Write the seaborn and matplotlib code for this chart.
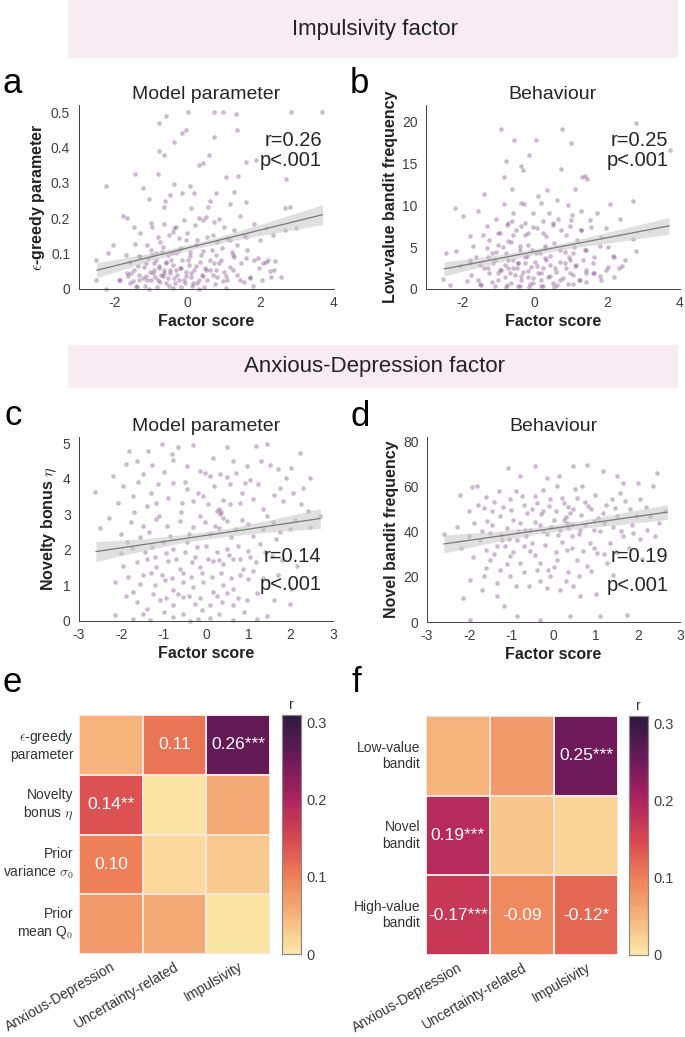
import matplotlib.pyplot as plt
import numpy as np
import pandas as pd
import seaborn as sns

from matplotlib.colors import LinearSegmentedColormap
from matplotlib.patches import Rectangle


# points (factor score, value): spread-out ones, then the dense core
pts_a_spread = [(0, 0.5), (-0.6, 0.49), (-0.8, 0.47), (0.72, 0.5), (0.98, 0.5), (1.33, 0.495), (2.83, 0.5), (3.69, 0.5),
         (-0.05, 0.45), (-0.17, 0.44), (1.35, 0.45), (0.73, 0.43), (-0.39, 0.415), (-0.8, 0.39), (-0.66, 0.38),
         (0.59, 0.38), (-1.44, 0.325), (-0.81, 0.326), (0.32, 0.35), (0.43, 0.355), (1.6, 0.36), (1.88, 0.365),
         (-2.25, 0.29), (-1.24, 0.286), (-0.37, 0.296), (0.06, 0.29), (1.05, 0.317), (1.38, 0.32), (2.7, 0.31),
         (0.18, 0.27), (-0.15, 0.27), (-0.5, 0.265), (0.78, 0.27), (1.28, 0.275), (-1.06, 0.253), (-0.62, 0.25),
         (0.6, 0.25), (1.15, 0.24), (1.6, 0.247), (-1.79, 0.205), (-1.67, 0.2), (-0.66, 0.233), (0.09, 0.23),
         (0.55, 0.233), (2.67, 0.228), (2.8, 0.233), (-1.47, 0.176), (-1.0, 0.186), (-0.32, 0.176), (0.32, 0.2),
         (0.43, 0.195), (0.87, 0.197), (1.42, 0.205), (2.16, 0.172), (2.34, 0.153), (2.66, 0.167), (2.98, 0.172),
         (-2.04, 0.125), (-1.44, 0.128), (-0.83, 0.148), (-0.41, 0.162), (-0.05, 0.139), (0.23, 0.125),
         (0.69, 0.153), (1.15, 0.139), (1.6, 0.148), (1.97, 0.139), (-2.52, 0.083), (-2.2, 0.103), (-1.7, 0.097),
         (-1.33, 0.092), (-1.0, 0.109), (-0.69, 0.12), (-0.32, 0.101), (0.06, 0.092), (0.41, 0.106), (0.78, 0.097),
         (1.24, 0.097), (1.6, 0.087), (1.93, 0.087), (2.2, 0.083), (2.4, 0.078), (-2.52, 0.026), (-2.25, 0.0),
         (-1.88, 0.026), (-1.56, 0.045), (-1.38, 0.064), (-1.15, 0.073), (-0.92, 0.054), (-0.83, 0.026),
         (-0.6, 0.073), (-0.5, 0.045), (-0.37, 0.031), (-0.18, 0.059), (-0.09, 0.017), (0.09, 0.045), (0.23, 0.064),
         (0.32, 0.026), (0.5, 0.054), (0.69, 0.04), (0.87, 0.073), (1.05, 0.036), (1.24, 0.054), (1.42, 0.026),
         (1.7, 0.031), (2.06, 0.073), (2.25, 0.05), (-1.42, 0.008), (-1.06, 0.0), (-0.41, 0.003), (0.32, 0.0),
         (1.05, 0.003), (1.79, 0.008), (-1.24, 0.031), (-0.73, 0.04), (-1.0, 0.026), (-0.87, 0.083), (-0.78, 0.064),
         (-0.69, 0.036), (-0.6, 0.017), (-0.46, 0.083), (-0.32, 0.054), (-0.23, 0.026), (-0.96, 0.045),
         (-1.15, 0.036), (-1.33, 0.026), (-1.51, 0.022), (-1.65, 0.036), (-0.05, 0.036), (0.14, 0.017),
         (0.41, 0.036), (0.6, 0.083), (0.78, 0.054), (0.96, 0.022), (-1.1, 0.087), (-0.55, 0.097), (-0.87, 0.101),
         (-0.23, 0.111), (0.0, 0.083), (-0.64, 0.054)]
pts_a_core = [(-1.49, 0.054), (-1.35, 0.040), (-1.21, 0.063), (-1.12, 0.025), (-1.03, 0.049), (-0.94, 0.073),
         (-0.89, 0.035), (-0.80, 0.058), (-0.75, 0.021), (-0.66, 0.044), (-0.61, 0.077), (-0.55, 0.030),
         (-0.48, 0.054), (-0.40, 0.068), (-0.34, 0.016), (-0.29, 0.040), (-0.22, 0.058), (-0.16, 0.082),
         (-0.11, 0.025), (-0.04, 0.049), (0.03, 0.068), (0.09, 0.035), (0.17, 0.054), (0.26, 0.016), (0.33, 0.077),
         (0.39, 0.040), (0.46, 0.058), (0.53, 0.025), (0.62, 0.054), (0.72, 0.073), (0.81, 0.035), (0.90, 0.082),
         (0.99, 0.049), (1.08, 0.025), (1.17, 0.063), (1.27, 0.091), (1.36, 0.040), (1.45, 0.073), (-1.85, 0.025),
         (-1.67, 0.044), (-1.58, 0.016), (-1.39, 0.007), (-1.17, 0.008), (-0.84, 0.007), (-0.52, 0.008),
         (-0.20, 0.007), (0.12, 0.008), (0.44, 0.007), (0.76, 0.014), (-1.58, 0.077), (-1.30, 0.091),
         (-0.98, 0.096), (-0.71, 0.105), (-0.43, 0.101), (-0.20, 0.115), (0.07, 0.105), (0.35, 0.096),
         (0.67, 0.110), (0.94, 0.115), (1.22, 0.105), (-0.75, 0.134), (-0.52, 0.153), (-0.25, 0.143),
         (-0.02, 0.157), (0.26, 0.138), (0.53, 0.148), (0.81, 0.134), (1.08, 0.143), (1.36, 0.124), (-1.12, 0.124),
         (-1.30, 0.157), (-0.98, 0.176), (-0.66, 0.185), (-0.39, 0.171), (-0.11, 0.195), (0.21, 0.181),
         (0.49, 0.204), (0.72, 0.190), (0.99, 0.176), (1.27, 0.167), (1.54, 0.153), (1.82, 0.185), (1.63, 0.110),
         (1.82, 0.082), (1.95, 0.058), (2.14, 0.077), (2.28, 0.035), (1.72, 0.035), (1.54, 0.021), (2.05, 0.025),
         (2.55, 0.035), (2.37, 0.054)]

pts_b_spread = [(-0.92, 19.1), (0.76, 19.1), (2.8, 19.9), (3.72, 16.6), (-0.58, 17.8), (0.03, 17.8), (0.99, 17.5),
         (-0.16, 16.0), (-0.8, 15.3), (-0.37, 14.7), (0.73, 14.3), (-0.34, 14.2), (-0.84, 13.4), (-0.64, 12.0),
         (1.38, 13.5), (1.31, 13.4), (1.45, 13.2), (0.34, 11.8), (-1.4, 11.3), (1.1, 12.0), (0.09, 11.1),
         (0.6, 10.7), (2.71, 10.5), (-2.2, 9.7), (-0.84, 10.2), (-0.37, 10.3), (-0.29, 10.2), (0.18, 10.3),
         (0.9, 10.1), (2.06, 10.2), (-1.56, 9.3), (-0.61, 9.1), (-0.05, 9.1), (0.39, 9.1), (1.01, 8.9), (1.28, 9.3),
         (1.7, 9.1), (-1.97, 8.7), (-1.06, 8.4), (-0.64, 8.1), (-0.28, 7.9), (0.23, 8.1), (0.64, 8.4), (1.51, 8.3),
         (2.34, 8.4), (-1.33, 7.5), (-0.76, 7.7), (-0.37, 7.5), (0.05, 7.3), (0.5, 7.7), (0.96, 7.5), (1.28, 7.1),
         (1.97, 7.3), (-1.79, 6.3), (-1.42, 6.4), (-0.96, 6.7), (-0.6, 6.5), (-0.18, 6.7), (0.32, 6.3), (0.87, 6.5),
         (1.15, 5.9), (2.71, 6.0), (2.8, 4.5), (-2.45, 4.3), (-2.16, 4.5), (-1.7, 5.1), (-1.33, 4.9), (-1.01, 5.3),
         (-0.73, 5.7), (-0.41, 5.1), (-0.09, 4.7), (0.28, 5.1), (0.69, 4.7), (1.06, 4.3), (1.42, 4.7), (1.79, 5.1),
         (2.16, 3.9), (2.39, 2.7), (2.48, 3.5), (-2.06, 2.7), (-1.79, 3.5), (-1.51, 2.9), (-1.28, 2.5), (-1.1, 3.5),
         (-0.96, 2.3), (-0.83, 2.9), (-0.69, 1.9), (-0.6, 3.5), (-0.5, 2.5), (-0.37, 1.5), (-0.28, 3.1),
         (-0.18, 2.1), (-0.05, 1.3), (0.05, 2.7), (0.18, 1.9), (0.32, 3.5), (0.41, 1.5), (0.55, 2.5), (0.69, 1.1),
         (0.83, 3.1), (0.96, 1.9), (1.1, 2.7), (1.24, 1.1), (1.42, 1.9), (1.6, 3.1), (1.79, 1.5), (1.97, 2.3),
         (-2.52, 1.2), (-2.34, 0.5), (-1.88, 0.9), (-1.51, 0.6), (-1.19, 0.8), (-0.78, 0.5), (-0.41, 0.4),
         (-0.14, 0.6), (0.23, 0.4), (0.6, 0.5), (1.06, 0.6), (1.42, 0.8), (-1.01, 1.9), (-0.73, 2.5), (-0.46, 3.1),
         (-0.23, 3.9), (0.14, 4.3), (-0.8, 4.3), (-1.19, 4.3), (0.41, 3.9), (0.96, 3.5), (1.6, 1.9)]
pts_b_core = [(-1.39, 2.47), (-1.25, 1.87), (-1.16, 3.07), (-1.02, 1.08), (-0.93, 2.27), (-0.83, 1.47), (-0.74, 3.47),
         (-0.67, 0.68), (-0.61, 2.47), (-0.54, 1.67), (-0.47, 3.07), (-0.39, 1.08), (-0.33, 2.07), (-0.27, 3.86),
         (-0.19, 1.47), (-0.12, 2.67), (-0.06, 0.68), (0.01, 3.27), (0.08, 1.87), (0.16, 1.08), (0.22, 2.47),
         (0.28, 3.67), (0.36, 1.47), (0.43, 2.87), (0.50, 0.68), (0.59, 2.07), (0.68, 3.27), (0.77, 1.27),
         (0.86, 2.47), (0.95, 3.86), (1.05, 1.67), (1.14, 2.87), (1.23, 1.08), (1.32, 3.47), (1.41, 2.27),
         (-1.75, 1.67), (-1.57, 1.08), (-1.48, 0.48), (-1.11, 0.36), (-0.79, 0.28), (-0.47, 0.36), (-0.15, 0.28),
         (0.17, 0.36), (0.54, 0.28), (0.91, 0.60), (-1.29, 3.86), (-1.06, 4.46), (-0.88, 5.06), (-0.65, 5.66),
         (-0.42, 4.66), (-0.19, 5.26), (0.04, 4.26), (0.27, 4.86), (0.54, 5.46), (0.82, 4.46), (1.09, 5.06),
         (1.37, 4.66), (1.64, 3.86), (-0.51, 7.05), (-0.28, 6.45), (-0.06, 7.45), (0.22, 6.65), (0.50, 7.85),
         (0.72, 7.05), (1.00, 8.25), (-0.74, 7.85), (-1.02, 6.65), (-1.25, 5.86), (1.28, 7.05), (1.55, 7.45),
         (1.83, 6.25), (2.01, 5.06), (2.19, 3.86), (2.01, 2.67), (2.33, 2.47), (1.64, 1.87), (1.83, 1.08),
         (2.19, 1.47), (-1.61, 3.86), (-1.80, 3.07)]

pts_c_spread = [(-2.62, 3.63), (-2.2, 4.07), (-1.83, 4.77), (-1.36, 4.77), (-1.05, 4.98), (-0.67, 4.89), (-0.3, 4.95),
         (0.49, 4.9), (1.17, 4.93), (1.45, 4.97), (2.21, 4.72), (-1.64, 4.49), (-1.28, 4.39), (-0.77, 4.53),
         (-0.46, 4.35), (-0.14, 4.21), (0.17, 4.58), (0.64, 4.49), (0.96, 4.35), (1.51, 4.39), (1.71, 4.26),
         (1.9, 4.02), (2.45, 4.02), (-1.95, 3.79), (-1.48, 4.12), (-1.13, 3.84), (-0.77, 3.88), (-0.46, 3.7),
         (-0.03, 4.16), (0.09, 4.07), (0.33, 4.12), (0.56, 3.84), (0.92, 3.88), (1.23, 3.84), (1.74, 3.74),
         (2.06, 3.6), (-2.07, 3.32), (-1.72, 3.51), (-1.4, 3.23), (-1.17, 3.32), (-0.89, 3.46), (-0.57, 3.32),
         (-0.3, 3.37), (-0.07, 3.51), (0.25, 3.09), (0.33, 3.0), (0.56, 3.28), (0.8, 3.32), (1.11, 3.42),
         (1.35, 3.14), (1.82, 3.37), (2.25, 3.28), (2.69, 2.95), (-2.5, 2.6), (-1.76, 2.77), (-1.48, 2.67),
         (-1.17, 2.86), (-0.93, 2.67), (-0.62, 2.81), (-0.3, 2.63), (-0.03, 2.77), (0.21, 2.67), (0.49, 2.81),
         (0.72, 2.58), (0.99, 2.72), (1.35, 2.58), (1.59, 2.77), (1.98, 2.58), (2.45, 2.63), (-1.87, 2.21),
         (-1.56, 2.35), (-1.28, 2.07), (-1.01, 2.21), (-0.77, 2.02), (-0.46, 2.21), (-0.22, 2.07), (0.01, 2.11),
         (0.25, 1.93), (0.49, 2.02), (0.76, 2.11), (0.99, 1.97), (1.27, 2.16), (1.66, 2.3), (-1.95, 1.55),
         (-1.64, 1.65), (-1.4, 1.74), (-1.17, 1.51), (-0.89, 1.69), (-0.62, 1.46), (-0.34, 1.65), (-0.14, 1.51),
         (0.17, 1.69), (0.41, 1.6), (0.64, 1.74), (0.88, 1.46), (1.19, 1.65), (1.55, 1.83), (-2.15, 1.09),
         (-1.72, 0.81), (-1.48, 1.28), (-1.2, 1.0), (-0.97, 1.14), (-0.77, 0.86), (-0.54, 1.09), (-0.3, 0.95),
         (-0.07, 1.09), (0.17, 0.81), (0.41, 1.0), (0.64, 0.9), (0.99, 1.18), (1.98, 0.48), (-1.64, 0.53),
         (-1.4, 0.34), (-1.09, 0.58), (-0.77, 0.44), (-0.54, 0.67), (-0.26, 0.48), (0.09, 0.44), (0.37, 0.53),
         (0.64, 0.46), (0.96, 0.58), (-2.15, 0.18), (-1.72, 0.07), (-1.33, 0.02), (-0.77, 0.11), (-0.38, 0.0),
         (0.09, 0.08), (0.64, 0.02), (1.43, 0.14)]
pts_c_core = [(-1.9, 4.4), (-1.6, 3.9), (-1.3, 3.6), (-1.0, 4.2), (-0.8, 4.7), (-0.5, 3.9), (-0.2, 3.6), (0.05, 3.3),
         (0.2, 3.8), (0.3, 3.15), (0.35, 3.05), (0.4, 3.4), (0.5, 4.05), (0.7, 4.15), (0.85, 3.6), (1.05, 3.95),
         (1.3, 4.5), (1.6, 3.55), (2.0, 4.3), (2.3, 3.75), (-2.3, 2.9), (-2.0, 2.45), (-1.7, 3.05), (-1.35, 2.5),
         (-1.1, 2.95), (-0.85, 2.4), (-0.6, 3.05), (-0.4, 2.45), (-0.15, 2.95), (0.1, 2.45), (0.3, 2.6), (0.4, 2.9),
         (0.6, 2.35), (0.85, 2.85), (1.1, 2.4), (1.45, 2.95), (1.75, 2.5), (2.1, 2.85), (2.4, 3.1), (-2.0, 1.9),
         (-1.75, 2.05), (-1.45, 1.95), (-1.2, 1.8), (-0.95, 1.9), (-0.7, 1.75), (-0.5, 1.95), (-0.25, 1.8),
         (0.05, 1.75), (0.3, 1.7), (0.55, 1.85), (0.8, 1.75), (1.05, 1.8), (1.4, 1.95), (1.8, 1.7), (2.15, 1.55),
         (-1.85, 1.25), (-1.55, 1.05), (-1.3, 1.35), (-1.05, 1.3), (-0.8, 1.2), (-0.55, 1.35), (-0.35, 1.25),
         (-0.1, 1.35), (0.15, 1.25), (0.35, 1.35), (0.6, 1.2), (0.8, 1.3), (1.1, 1.4), (1.35, 1.2), (1.7, 1.3),
         (2.0, 0.9), (-1.9, 0.7), (-1.25, 0.75), (-0.95, 0.65), (-0.65, 0.75), (-0.4, 0.7), (-0.15, 0.65),
         (0.25, 0.7), (0.5, 0.8), (0.75, 0.65), (1.2, 0.8), (1.6, 0.6), (-1.5, 0.2), (-1.0, 0.25), (-0.55, 0.2),
         (-0.1, 0.3), (0.3, 0.2), (0.9, 0.25), (1.2, 0.05), (-0.2, 0.05)]

pts_d_spread = [(-2.6, 39.2), (-2.21, 56.1), (-1.93, 59.9), (-1.82, 60.2), (-1.97, 18.8), (-2.15, 10.7), (-1.99, 1.0),
         (-1.66, 50.6), (-1.46, 49.1), (-1.3, 58.0), (-1.07, 68.3), (-0.79, 64.6), (-0.43, 69.1), (-0.16, 63.9),
         (0.12, 64.6), (0.47, 69.1), (0.79, 69.8), (1.18, 66.9), (1.5, 64.6), (1.66, 61.7), (2.01, 61.7),
         (2.45, 66.1), (2.37, 60.2), (-1.89, 43.9), (-1.58, 44.7), (-1.26, 46.9), (-1.03, 54.3), (-0.95, 45.4),
         (-0.75, 55.8), (-0.63, 48.4), (-0.39, 52.8), (-0.24, 58.7), (-0.08, 54.3), (0.08, 60.2), (0.24, 52.8),
         (0.39, 48.4), (0.55, 55.0), (0.67, 60.2), (0.83, 51.3), (0.99, 56.5), (1.18, 48.4), (1.38, 54.3),
         (1.58, 57.2), (1.82, 49.9), (2.05, 54.3), (2.29, 46.9), (2.64, 49.1), (-1.74, 36.5), (-1.5, 39.5),
         (-1.34, 33.6), (-1.1, 41.7), (-0.87, 36.5), (-0.67, 41.0), (-0.51, 35.1), (-0.32, 43.2), (-0.16, 38.8),
         (0.0, 45.4), (0.16, 41.0), (0.32, 43.9), (0.43, 38.0), (0.63, 41.0), (0.87, 35.1), (1.1, 40.2),
         (1.34, 35.1), (1.66, 38.0), (1.89, 39.5), (2.21, 41.0), (-1.5, 27.7), (-1.26, 23.2), (-1.03, 29.1),
         (-0.79, 26.2), (-0.55, 31.4), (-0.32, 26.2), (-0.12, 23.2), (0.08, 27.7), (0.32, 32.1), (0.55, 27.7),
         (0.79, 24.7), (1.03, 30.6), (1.26, 26.2), (-1.66, 20.3), (-1.34, 17.3), (-1.03, 20.3), (-0.59, 15.8),
         (-0.32, 18.0), (-0.08, 20.3), (0.16, 14.3), (0.47, 15.8), (0.63, 11.4), (-1.34, 11.4), (-1.18, 7.0),
         (-0.87, 2.5), (-0.32, 1.0), (0.39, 2.5), (1.1, 2.5), (1.74, 3.0), (-0.55, 41.0), (-0.24, 49.1),
         (0.47, 49.9), (0.95, 44.7), (-0.79, 43.9), (-1.22, 36.5), (1.5, 46.9)]
pts_d_core = [(-2.0, 49), (-1.8, 52), (-1.6, 55.5), (-1.4, 53), (-1.2, 51), (-1.0, 49.5), (-0.9, 58), (-0.7, 52),
         (-0.5, 50), (-0.45, 56), (-0.3, 48), (-0.1, 51.5), (0.05, 49), (0.2, 55), (0.3, 46.5), (0.35, 51),
         (0.5, 59), (0.65, 47.5), (0.75, 53), (0.9, 50), (1.05, 46), (1.25, 52), (1.45, 50.5), (1.7, 53.5),
         (1.95, 47), (2.2, 51), (2.5, 44), (-2.3, 42), (-2.0, 38), (-1.7, 40.5), (-1.45, 43), (-1.25, 38.5),
         (-1.05, 37), (-0.85, 40.5), (-0.65, 38), (-0.45, 44.5), (-0.25, 40.5), (-0.05, 42), (0.1, 38.5),
         (0.25, 45), (0.35, 41.5), (0.45, 43.5), (0.6, 39), (0.75, 43), (0.95, 41), (1.2, 44), (1.4, 42),
         (1.6, 40.5), (1.85, 43), (2.05, 37), (2.4, 38), (-2.2, 33), (-1.9, 29), (-1.6, 32), (-1.4, 30),
         (-1.15, 33.5), (-0.95, 31), (-0.7, 33.5), (-0.45, 29.5), (-0.2, 34), (0.05, 31), (0.2, 35.5), (0.45, 33),
         (0.7, 31.5), (0.95, 33), (1.2, 30), (1.5, 31), (1.8, 33), (2.1, 28), (-1.6, 24), (-1.1, 25.5), (-0.7, 22),
         (-0.4, 23), (0.0, 24.5), (0.35, 22), (0.6, 20.5), (0.9, 22.5), (1.4, 21), (-0.9, 16), (-0.15, 15),
         (0.3, 18), (1.0, 12.5), (-1.7, 14)]

# regression line and 95% band
fit_a_x = [-2.5, -1.0, 0.0, 1.0, 2.0, 3.7]
fit_a_y = [0.053, 0.091, 0.117, 0.142, 0.167, 0.210]
fit_a_lo = [0.032, 0.080, 0.109, 0.132, 0.151, 0.182]
fit_a_hi = [0.074, 0.102, 0.125, 0.152, 0.183, 0.238]

fit_b_x = [-2.5, -1.0, 0.0, 1.0, 2.0, 3.7]
fit_b_y = [2.4, 3.64, 4.47, 5.3, 6.13, 7.55]
fit_b_lo = [1.55, 3.19, 4.12, 4.88, 5.48, 6.55]
fit_b_hi = [3.25, 4.09, 4.82, 5.72, 6.78, 8.55]

fit_c_x = [-2.6, -1.5, -0.5, 0.5, 1.5, 2.7]
fit_c_y = [1.95, 2.14, 2.32, 2.49, 2.67, 2.88]
fit_c_lo = [1.67, 1.97, 2.21, 2.38, 2.50, 2.60]
fit_c_hi = [2.23, 2.31, 2.43, 2.60, 2.84, 3.16]

fit_d_x = [-2.6, -1.5, -0.5, 0.5, 1.5, 2.7]
fit_d_y = [34.6, 37.5, 40.2, 42.85, 45.5, 48.7]
fit_d_lo = [30.6, 35.0, 38.6, 41.25, 43.0, 45.4]
fit_d_hi = [38.6, 40.0, 41.8, 44.45, 48.0, 52.0]

factors = ['Anxious-Depression', 'Uncertainty-related', 'Impulsivity']

e_rows = ['$\\epsilon$-greedy\nparameter', 'Novelty\nbonus $\\eta$', 'Prior\nvariance $\\sigma_0$', 'Prior\nmean Q$_0$']
e_r = [[0.05, 0.11, 0.26],
       [0.14, 0.005, 0.06],
       [0.10, 0.015, 0.03],
       [0.075, 0.06, 0.005]]
e_text = [['', '0.11', '0.26***'],
          ['0.14**', '', ''],
          ['0.10', '', ''],
          ['', '', '']]

f_rows = ['Low-value\nbandit', 'Novel\nbandit', 'High-value\nbandit']
f_r = [[0.05, 0.075, 0.25],
       [0.19, 0.035, 0.02],
       [-0.17, -0.09, -0.12]]
f_text = [['', '', '0.25***'],
          ['0.19***', '', ''],
          ['-0.17***', '-0.09', '-0.12*']]

W, H = 685, 1037
PURPLE = '#7a3a84'
INK = '#404040'

sns.set_theme(style='white')
plt.rcParams['font.family'] = ['Liberation Sans', 'DejaVu Sans']
plt.rcParams['mathtext.fontset'] = 'cm'
plt.rcParams['axes.unicode_minus'] = False

cmap = LinearSegmentedColormap.from_list('r_map', [
    (0.0, '#fde9a9'), (0.16, '#f6b47c'), (0.32, '#ee8058'), (0.48, '#d8474f'),
    (0.645, '#ad245f'), (0.806, '#701a5b'), (1.0, '#2b1a3d')])


def box(l, t, r, b):
    return [l / W, 1 - b / H, (r - l) / W, (b - t) / H]


def fig_text(fig, x, y, s, **kw):
    fig.text(x / W, 1 - y / H, s, **kw)


def scatter_panel(fig, rect, pts, fx, fy, lo, hi, xlim, xticks, ylim, yticks, ylabel, title, stats, stat_y):
    ax = fig.add_axes(box(*rect))
    df = pd.DataFrame(pts, columns=['score', 'value'])
    sns.scatterplot(data=df, x='score', y='value', ax=ax, s=11, color=PURPLE, alpha=0.36,
                    linewidth=0, clip_on=False)
    ax.fill_between(fx, lo, hi, color='#c8c8c8', alpha=0.55, lw=0)
    sns.lineplot(x=[fx[0], fx[-1]], y=[fy[0], fy[-1]], ax=ax, color='#7a7a7a', lw=0.9)
    ax.set_xlim(*xlim)
    ax.set_ylim(*ylim)
    ax.set_xticks(xticks)
    ax.set_xticklabels([f'{t:g}' for t in xticks])
    ax.set_yticks(yticks)
    ax.set_yticklabels([f'{t:g}' for t in yticks])
    ax.tick_params(direction='in', length=3, width=0.6, colors=INK, labelsize=10, pad=6)
    ax.tick_params(axis='x', pad=5)
    for side in ['top', 'right']:
        ax.spines[side].set_visible(False)
    for side in ['left', 'bottom']:
        ax.spines[side].set_color(INK)
        ax.spines[side].set_linewidth(0.7)
    ax.set_xlabel('Factor score', fontweight='bold', fontsize=11.5, color='#222222', labelpad=3)
    ax.set_ylabel(ylabel, fontweight='bold', fontsize=11.5, color='#222222', labelpad=3)
    ax.set_title(title, fontsize=14, pad=4)
    for s, y in zip(stats, stat_y):
        ax.text(0.955, y, s, transform=ax.transAxes, ha='right', va='baseline', fontsize=14.5)
    return ax


def heat_panel(fig, rect, crect, vals, text, rows):
    ax = fig.add_axes(box(*rect))
    cax = fig.add_axes(box(*crect))
    data = pd.DataFrame(np.abs(np.array(vals)), index=rows, columns=factors)
    sns.heatmap(data, ax=ax, cbar_ax=cax, cmap=cmap, vmin=0, vmax=0.31,
                annot=np.array(text), fmt='', annot_kws={'color': 'white', 'fontsize': 12.5},
                linewidths=0.25, linecolor='#f3e6e0')
    ax.set_xticklabels(factors, rotation=30, ha='right', rotation_mode='anchor')
    ax.set_yticklabels(rows, rotation=0)
    ax.tick_params(length=0, labelsize=10, colors='#333333', pad=4)
    cax.set_yticks([0, 0.1, 0.2, 0.3])
    cax.set_yticklabels(['0', '0.1', '0.2', '0.3'])
    cax.tick_params(direction='in', length=2.5, width=0.6, labelsize=10.5, colors=INK, pad=4)
    for sp in cax.spines.values():
        sp.set_visible(True)
        sp.set_color('#8a8a8a')
        sp.set_linewidth(0.8)
    cax.set_title('r', fontsize=10, pad=4, color='#333333')
    return ax


fig = plt.figure(figsize=(W / 100, H / 100), dpi=100)

# factor banners
for top, bottom, label in [(0, 58, 'Impulsivity factor'), (345, 388, 'Anxious-Depression factor')]:
    fig.add_artist(Rectangle((68 / W, 1 - bottom / H), (678 - 68) / W, (bottom - top) / H,
                             transform=fig.transFigure, color='#f8ecf2', lw=0, zorder=0))
    fig_text(fig, 375, (top + bottom) / 2, label, ha='center', va='center', fontsize=16, color='#222222')

scatter_panel(fig, (78.5, 105, 333.5, 289), pts_a_spread + pts_a_core, fit_a_x, fit_a_y, fit_a_lo, fit_a_hi,
              (-3, 4), [-2, 0, 2, 4], (0, 0.52), [0, 0.1, 0.2, 0.3, 0.4, 0.5],
              '$\\epsilon$-greedy parameter', 'Model parameter', ['r=0.26', 'p<.001'], [0.777, 0.668])
scatter_panel(fig, (426, 105, 680, 289), pts_b_spread + pts_b_core, fit_b_x, fit_b_y, fit_b_lo, fit_b_hi,
              (-3, 4), [-2, 0, 2, 4], (0, 22), [0, 5, 10, 15, 20],
              'Low-value bandit frequency', 'Behaviour', ['r=0.25', 'p<.001'], [0.777, 0.668])
scatter_panel(fig, (79, 437, 333, 621), pts_c_spread + pts_c_core, fit_c_x, fit_c_y, fit_c_lo, fit_c_hi,
              (-3, 3), [-3, -2, -1, 0, 1, 2, 3], (0, 5.17), [0, 1, 2, 3, 4, 5],
              'Novelty bonus $\\eta$', 'Model parameter', ['r=0.14', 'p<.001'], [0.321, 0.168])
scatter_panel(fig, (427, 437, 680, 622), pts_d_spread + pts_d_core, fit_d_x, fit_d_y, fit_d_lo, fit_d_hi,
              (-3, 3), [-3, -2, -1, 0, 1, 2, 3], (0, 82), [0, 20, 40, 60, 80],
              'Novel bandit frequency', 'Behaviour', ['r=0.19', 'p<.001'], [0.324, 0.168])

heat_panel(fig, (79, 715, 270, 954), (282, 715, 301, 954), e_r, e_text, e_rows)
heat_panel(fig, (426, 716, 618, 955), (629, 716, 648, 955), f_r, f_text, f_rows)

# panel letters
for x, y, letter in [(3, 93, 'a'), (350, 93, 'b'), (4, 425, 'c'), (350, 426, 'd'), (2, 692, 'e'), (352, 692, 'f')]:
    fig_text(fig, x, y, letter, fontsize=25, va='baseline', ha='left', color='black')

fig.savefig('out.png', dpi=100)
